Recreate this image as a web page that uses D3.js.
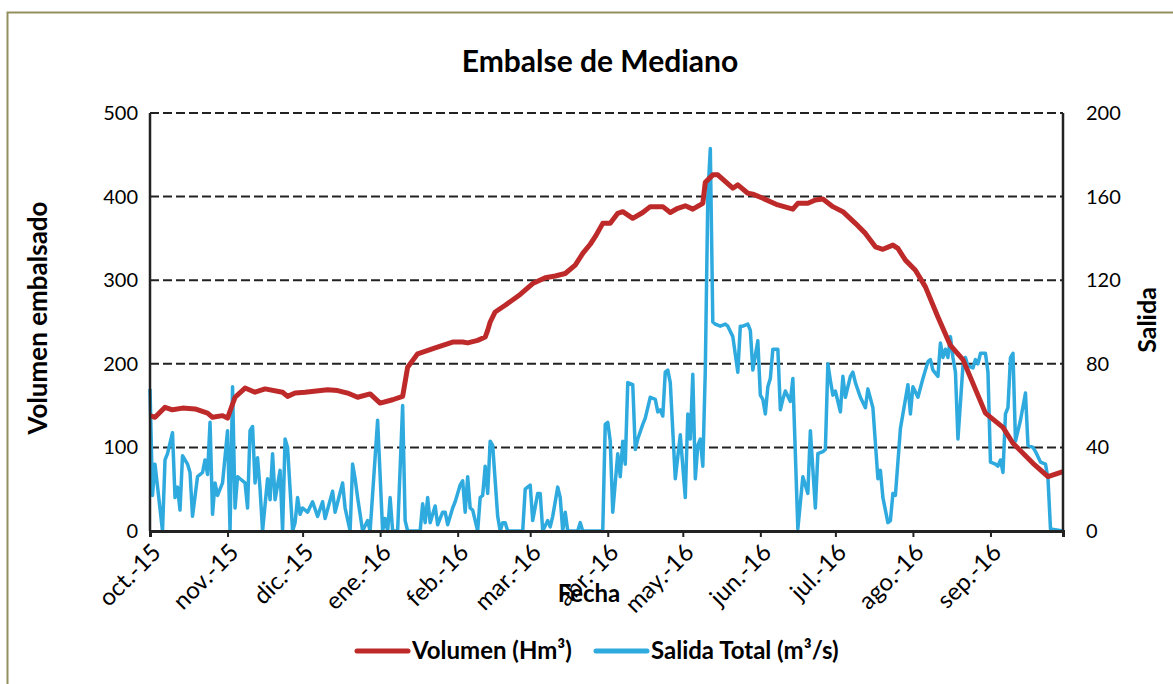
<!DOCTYPE html>
<html>
<head>
<meta charset="utf-8">
<script src="https://cdn.jsdelivr.net/npm/d3@7"></script>
<style>
  body { margin: 0; background: #fff; }
  text { font-family: Lato, "Open Sans", sans-serif; fill: #000; }
</style>
</head>
<body>
<div id="chart"></div>
<script>
// day offsets from 1 oct 2015
const inicio = new Date(2015, 9, 1)
const fin = new Date(2016, 8, 30)

const mesesEtiquetas = ["oct.-15", "nov.-15", "dic.-15", "ene.-16", "feb.-16", "mar.-16",
  "abr.-16", "may.-16", "jun.-16", "jul.-16", "ago.-16", "sep.-16"]

const ticksVolumen = [0, 100, 200, 300, 400, 500]
const ticksSalida = [0, 40, 80, 120, 160, 200]

const diasVolumen = [0, 2, 6, 9, 13, 18, 23, 25, 29, 31, 34, 38, 42, 46, 53, 55, 58, 62, 71, 75,
  79, 83, 88, 92, 97, 101, 103, 107, 114, 121, 125, 127, 131, 134, 135, 136, 138, 142, 148, 153,
  158, 162, 166, 170, 173, 176, 178, 181, 184, 187, 189, 193, 197, 200, 205, 208, 211, 214, 217, 221,
  222, 225, 227, 233, 235, 239, 241, 245, 251, 257, 259, 263, 266, 269, 273, 277, 282, 286, 290, 293,
  297, 299, 302, 306, 310, 315, 320, 325, 334, 341, 345, 353, 359, 365]
const volumen = [138, 136, 148, 145, 147, 146, 141, 136, 138, 135, 160, 171, 166, 170, 166, 161, 165, 166, 169, 168,
  165, 160, 164, 153, 157, 161, 196, 212, 219, 226, 226, 225, 228, 232, 240, 250, 262, 270, 283, 296,
  303, 305, 308, 318, 332, 343, 352, 368, 368, 380, 382, 374, 381, 388, 388, 381, 386, 389, 385, 392,
  417, 426, 426, 410, 414, 404, 403, 398, 390, 385, 392, 392, 396, 397, 388, 382, 368, 356, 340, 337,
  342, 338, 324, 312, 292, 256, 222, 205, 141, 124, 105, 81, 65, 71]

const diasSalida = [0, 1, 2, 5, 6, 7, 9, 10, 11, 12, 13, 15, 16, 17, 19, 21, 22, 23, 24, 25,
  26, 27, 29, 31, 32, 33, 34, 35, 36, 38, 39, 40, 41, 42, 43, 44, 45, 47, 48, 49,
  50, 52, 53, 54, 55, 57, 58, 59, 60, 61, 63, 65, 67, 69, 70, 73, 74, 77, 78, 80,
  81, 82, 83, 85, 87, 88, 91, 93, 94, 95, 96, 97, 99, 101, 102, 103, 108, 109, 110, 111,
  112, 114, 115, 117, 118, 119, 121, 122, 124, 125, 126, 127, 128, 129, 131, 132, 133, 134, 135, 136,
  137, 139, 140, 141, 142, 143, 149, 150, 152, 153, 155, 156, 157, 159, 160, 161, 163, 164, 165, 166,
  167, 171, 172, 173, 181, 182, 183, 184, 185, 187, 188, 189, 190, 191, 193, 194, 195, 197, 198, 200,
  202, 203, 204, 205, 206, 207, 208, 210, 212, 214, 215, 216, 217, 218, 219, 220, 221, 222, 223, 224,
  225, 226, 228, 230, 231, 233, 235, 236, 237, 239, 240, 241, 243, 244, 245, 246, 247, 248, 249, 251,
  252, 253, 254, 256, 257, 259, 261, 263, 264, 266, 267, 269, 270, 271, 272, 273, 274, 276, 277, 278,
  280, 281, 282, 284, 286, 287, 289, 291, 292, 293, 295, 296, 297, 298, 300, 303, 304, 305, 307, 309,
  311, 312, 313, 315, 316, 317, 318, 319, 320, 321, 322, 323, 325, 326, 327, 329, 330, 331, 332, 334,
  335, 336, 338, 339, 340, 341, 342, 343, 344, 345, 346, 348, 350, 351, 353, 354, 356, 358, 359, 360,
  365]
const salida = [68, 17, 32, 0, 34, 37, 47, 16, 21, 10, 36, 32, 28, 7, 26, 28, 34, 27, 52, 8,
  23, 17, 23, 48, 0, 69, 11, 26, 25, 23, 11, 48, 50, 23, 35, 20, 0, 25, 15, 37,
  15, 29, 0, 44, 40, 0, 4, 16, 8, 11, 9, 14, 7, 14, 6, 19, 9, 23, 11, 0,
  32, 25, 16, 0, 5, 0, 53, 0, 6, 0, 16, 0, 0, 60, 5, 0, 0, 13, 4, 16,
  4, 12, 3, 9, 9, 3, 11, 14, 22, 24, 9, 26, 11, 10, 0, 16, 17, 31, 18, 43,
  41, 7, 0, 4, 4, 0, 0, 20, 22, 5, 18, 18, 0, 5, 2, 7, 21, 16, 0, 9,
  0, 0, 4, 0, 0, 51, 52, 43, 9, 37, 26, 43, 32, 71, 70, 39, 44, 51, 54, 64,
  63, 57, 58, 55, 76, 77, 71, 25, 46, 16, 56, 44, 75, 25, 41, 44, 31, 77, 160, 183,
  100, 99, 98, 99, 98, 93, 76, 98, 98, 99, 96, 77, 91, 65, 63, 56, 69, 73, 87, 87,
  58, 63, 67, 62, 73, 1, 26, 18, 48, 11, 37, 38, 39, 80, 72, 65, 67, 57, 74, 64,
  74, 76, 71, 64, 59, 68, 59, 25, 29, 16, 4, 5, 18, 17, 49, 70, 56, 69, 64, 73,
  81, 82, 77, 74, 90, 83, 87, 83, 93, 83, 76, 44, 79, 83, 79, 78, 82, 80, 85, 85,
  76, 33, 32, 31, 34, 28, 56, 59, 83, 85, 43, 53, 66, 41, 40, 38, 33, 32, 25, 1,
  0]

const width = 1173
const height = 684
const plotLeft = 150
const plotRight = 1063
const plotTop = 113
const plotBottom = 531

const rojo = "#be2a2a"
const azul = "#2eaadf"
const negro = "#222"

const dia = d => d3.timeDay.offset(inicio, d)

const xScale = d3.scaleTime()
  .domain([inicio, fin])
  .range([plotLeft, plotRight])

const yScale = d3.scaleLinear()
  .domain([0, 500])
  .range([plotBottom, plotTop])

const y2Scale = d3.scaleLinear()
  .domain([0, 200])
  .range([plotBottom, plotTop])

const svg = d3.select('#chart')
  .append('svg')
  .attr('width', width)
  .attr('height', height)

// outer frame
svg.append('rect')
  .attr('x', 7.5)
  .attr('y', 12.5)
  .attr('width', 1200)
  .attr('height', 700)
  .attr('fill', 'none')
  .attr('stroke', '#948f5f')
  .attr('stroke-width', 2)

svg.append('text')
  .attr('x', 600)
  .attr('y', 72)
  .attr('text-anchor', 'middle')
  .attr('font-size', '30px')
  .attr('font-weight', 'bold')
  .text('Embalse de Mediano')

// gridlines
svg.append('g')
  .selectAll('line')
  .data(ticksVolumen.filter(d => d > 0))
  .join('line')
  .attr('x1', plotLeft)
  .attr('x2', plotRight)
  .attr('y1', d => yScale(d))
  .attr('y2', d => yScale(d))
  .attr('stroke', negro)
  .attr('stroke-width', 2)
  .attr('stroke-dasharray', '9 4')

// left axis
const yAxis = d3.axisLeft(yScale).tickValues(ticksVolumen).tickSize(0).tickPadding(12)
const gy = svg.append('g')
  .attr('transform', `translate(${plotLeft} 0)`)
  .call(yAxis)
gy.select('.domain').remove()
gy.selectAll('text').attr('font-size', '20px').attr('font-family', 'Lato')

const y2Axis = d3.axisRight(y2Scale).tickValues(ticksSalida).tickSize(0).tickPadding(23)
const gy2 = svg.append('g')
  .attr('transform', `translate(${plotRight} 0)`)
  .call(y2Axis)
gy2.select('.domain').remove()
gy2.selectAll('text').attr('font-size', '20px').attr('font-family', 'Lato')

// series
const lineaVolumen = d3.line()
  .x((d, i) => xScale(dia(d)))
  .y((d, i) => yScale(volumen[i]))

const lineaSalida = d3.line()
  .x((d, i) => xScale(dia(d)))
  .y((d, i) => y2Scale(salida[i]))

svg.append('path')
  .datum(diasSalida)
  .attr('d', lineaSalida)
  .attr('fill', 'none')
  .attr('stroke', azul)
  .attr('stroke-width', 3.5)
  .attr('stroke-linejoin', 'round')

svg.append('path')
  .datum(diasVolumen)
  .attr('d', lineaVolumen)
  .attr('fill', 'none')
  .attr('stroke', rojo)
  .attr('stroke-width', 5)
  .attr('stroke-linejoin', 'round')

// axis frame lines
svg.append('line')
  .attr('x1', plotLeft).attr('x2', plotLeft).attr('y1', plotTop).attr('y2', plotBottom)
  .attr('stroke', negro).attr('stroke-width', 2.5)
svg.append('line')
  .attr('x1', plotRight).attr('x2', plotRight).attr('y1', plotTop).attr('y2', plotBottom)
  .attr('stroke', negro).attr('stroke-width', 2.5)

// x axis
const meses = d3.timeMonth.range(inicio, fin)
const xAxis = d3.axisBottom(xScale)
  .tickValues(meses)
  .tickSize(6)
  .tickFormat((d, i) => mesesEtiquetas[i])

const gx = svg.append('g')
  .attr('transform', `translate(0 ${plotBottom})`)
  .call(xAxis)
gx.select('.domain').attr('stroke', negro).attr('stroke-width', 3)
gx.selectAll('.tick line').attr('stroke', negro).attr('stroke-width', 2)
gx.selectAll('text')
  .attr('font-size', '24px')
  .attr('font-family', 'Lato')
  .attr('text-anchor', 'end')
  .attr('x', 0)
  .attr('y', 0)
  .attr('dy', '0.35em')
  .attr('transform', 'translate(6 17) rotate(-45)')

// axis titles
svg.append('text')
  .attr('x', 589)
  .attr('y', 602)
  .attr('text-anchor', 'middle')
  .attr('font-size', '24px')
  .attr('font-weight', 'bold')
  .text('Fecha')

svg.append('text')
  .attr('transform', 'translate(47 318) rotate(-90)')
  .attr('text-anchor', 'middle')
  .attr('font-size', '26px')
  .attr('font-weight', 'bold')
  .text('Volumen embalsado')

svg.append('text')
  .attr('transform', 'translate(1156 320) rotate(-90)')
  .attr('text-anchor', 'middle')
  .attr('font-size', '25px')
  .attr('font-weight', 'bold')
  .text('Salida')

// legend
const leyenda = [
  { nombre: 'Volumen (Hm³)', color: rojo, x: 357 },
  { nombre: 'Salida Total (m³/s)', color: azul, x: 596 }
]

const items = svg.append('g')
  .selectAll('g')
  .data(leyenda)
  .join('g')
  .attr('transform', d => `translate(${d.x} 651)`)

items.append('line')
  .attr('x1', 0)
  .attr('x2', 51)
  .attr('stroke', d => d.color)
  .attr('stroke-width', 5)
  .attr('stroke-linecap', 'round')

items.append('text')
  .attr('x', 55)
  .attr('dy', '0.35em')
  .attr('font-size', '24px')
  .attr('font-weight', 'bold')
  .text(d => d.nombre)
</script>
</body>
</html>
